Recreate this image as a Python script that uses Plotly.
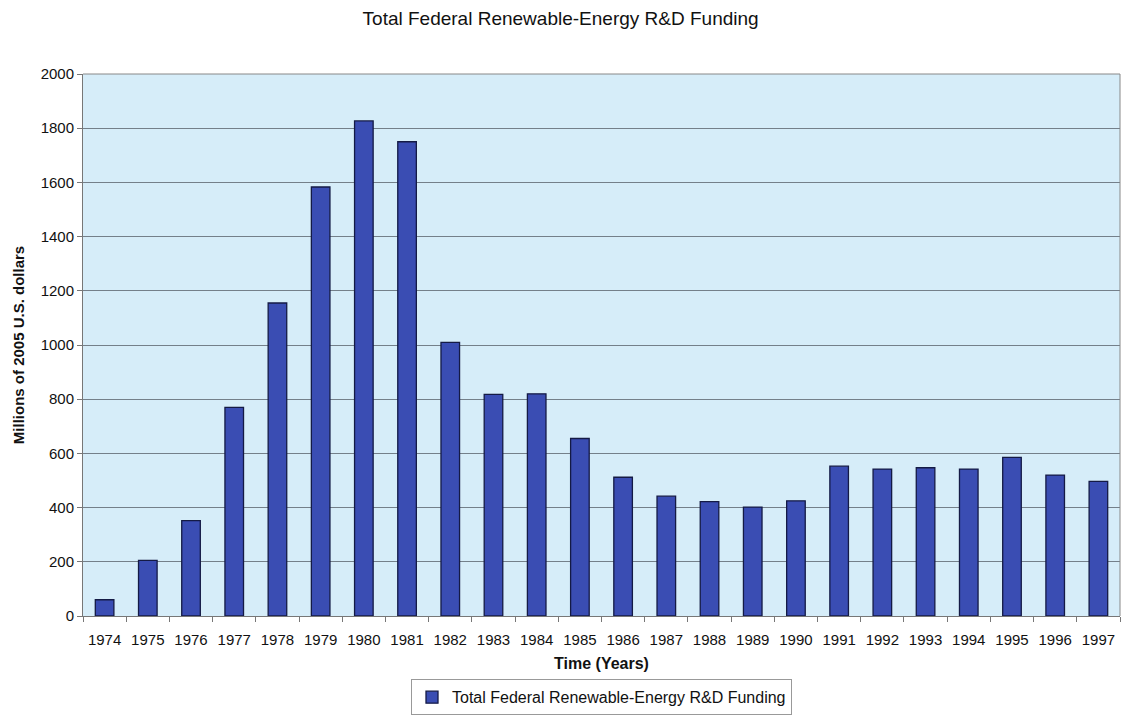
import plotly.graph_objects as go

years = [str(y) for y in range(1974, 1998)]
funding = [60, 205, 352, 770, 1155, 1583, 1827, 1750, 1010, 818, 820, 655,
           512, 442, 422, 402, 425, 553, 542, 547, 542, 585, 520, 497]
series_name = "Total Federal Renewable-Energy R&D Funding"
y_ticks = list(range(0, 2001, 200))

fig = go.Figure()
fig.add_trace(go.Bar(
    x=years, y=funding, name=series_name,
    marker=dict(color="#3a4db3", line=dict(color="#141a45", width=1.3)),
    showlegend=True,
))

font_family = "Liberation Sans, Arial, sans-serif"
fig.update_layout(
    width=1128, height=716,
    margin=dict(l=83, r=8, t=74, b=100, autoexpand=False),
    paper_bgcolor="white",
    plot_bgcolor="#d6edf9",
    bargap=0.57,
    font=dict(family=font_family, size=15, color="#111111"),
    title=dict(text=series_name, x=0.497, xanchor="center", y=0.983, yanchor="top",
               font=dict(size=19, color="#111111")),
    showlegend=True,
    legend=dict(orientation="h", x=0.5, xanchor="center", y=-0.15, yanchor="middle",
                bordercolor="#999999", borderwidth=1, bgcolor="white",
                font=dict(size=16), itemwidth=30),
    xaxis=dict(
        type="category", showline=True, linecolor="#777777", linewidth=1,
        ticks="outside", tickson="boundaries", ticklen=5, tickcolor="#777777",
        ticklabelstandoff=10, automargin=False,
        showgrid=False, mirror=False,
        title=dict(text="<b>Time (Years)</b>", font=dict(size=16), standoff=10),
        tickfont=dict(size=15),
    ),
    yaxis=dict(
        range=[0, 2000], tickvals=y_ticks, showline=True, linecolor="#777777", linewidth=1,
        ticks="outside", ticklen=5, tickcolor="#777777", automargin=False,
        showgrid=True, gridcolor="#74808a", gridwidth=1, zeroline=False,
        title=dict(text="<b>Millions of 2005 U.S. dollars</b>", font=dict(size=15), standoff=12),
        tickfont=dict(size=15),
    ),
)
fig.add_shape(type="line", xref="paper", yref="paper", x0=1, x1=1, y0=0, y1=1,
              line=dict(color="#888888", width=1))
fig.add_shape(type="line", xref="paper", yref="paper", x0=0, x1=1, y0=1, y1=1,
              line=dict(color="#888888", width=1))

fig.write_html("out.html")
